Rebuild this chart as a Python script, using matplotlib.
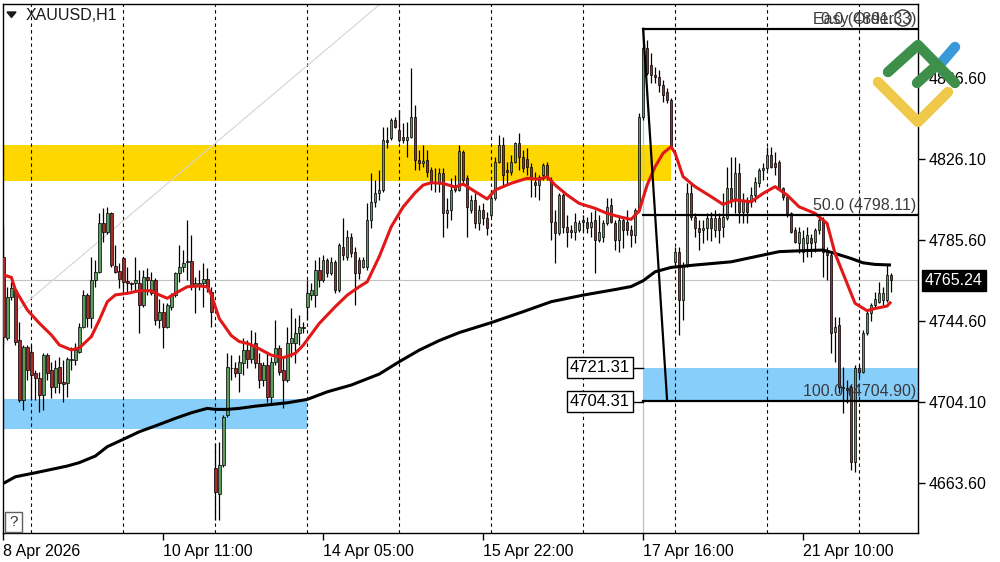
import matplotlib
matplotlib.use("Agg")
import matplotlib.pyplot as plt
from matplotlib.patches import Rectangle, Circle, Polygon
import numpy as np

plt.rcParams['font.family'] = ['Liberation Sans', 'DejaVu Sans']

# XAUUSD H1 candles, bar 0 = 8 Apr 17:00
opens = [
    4777.0, 4736.1, 4757.0, 4760.3, 4735.2, 4705.1, 4731.9, 4729.4, 4718.5, 4716.0,
    4707.7, 4727.7, 4720.2, 4711.8, 4721.9, 4714.0, 4713.5, 4725.2, 4725.2, 4729.4,
    4741.9, 4757.8, 4746.1, 4765.3, 4769.5, 4793.8, 4789.6, 4798.8, 4772.4, 4769.9,
    4776.2, 4764.8, 4763.7, 4763.7, 4763.7, 4752.8, 4767.0, 4758.7, 4765.3, 4745.3,
    4749.5, 4741.9, 4752.0, 4757.8, 4769.0, 4771.7, 4774.4, 4774.9, 4762.8, 4762.3,
    4764.0, 4765.7, 4759.5, 4670.9, 4658.3, 4672.5, 4697.6, 4721.4, 4721.0, 4718.5,
    4723.6, 4730.2, 4726.0, 4733.6, 4723.6, 4715.2, 4722.7, 4706.8, 4724.4, 4731.1,
    4720.2, 4715.2, 4733.6, 4733.6, 4738.6, 4741.9, 4752.0, 4757.8, 4757.8, 4770.4,
    4765.3, 4775.4, 4768.7, 4774.5, 4760.3, 4782.1, 4777.0, 4787.1, 4779.6, 4775.4,
    4772.0, 4772.0, 4795.4, 4804.6, 4808.8, 4810.5, 4835.6, 4836.4, 4845.6, 4840.6,
    4837.2, 4835.6, 4837.2, 4847.3, 4825.5, 4824.0, 4825.5, 4820.5, 4814.7, 4813.8,
    4818.9, 4798.8, 4800.5, 4812.2, 4810.5, 4829.7, 4816.4, 4800.5, 4805.5, 4793.8,
    4800.5, 4796.3, 4798.0, 4806.3, 4824.7, 4833.1, 4820.5, 4819.7, 4824.7, 4833.9,
    4827.2, 4826.0, 4822.2, 4814.7, 4813.0, 4818.0, 4823.0, 4815.5, 4794.6, 4788.8,
    4808.0, 4792.1, 4790.4, 4789.6, 4790.4, 4795.5, 4794.6, 4792.1, 4795.5, 4785.4,
    4787.1, 4793.8, 4802.9, 4793.8, 4785.4, 4795.5, 4794.6, 4790.4, 4787.9, 4800.5,
    4847.3, 4881.6, 4873.2, 4868.2, 4867.4, 4863.2, 4859.8, 4855.6, 4774.5, 4779.6,
    4755.3, 4772.9, 4808.8, 4797.1, 4791.3, 4790.4, 4791.3, 4796.3, 4790.4, 4796.3,
    4792.1, 4796.3, 4811.3, 4806.3, 4818.9, 4799.6, 4804.6, 4804.6, 4808.0, 4813.8,
    4820.5, 4821.4, 4828.1, 4823.9, 4824.7, 4811.3, 4807.2, 4798.8, 4790.4, 4783.8,
    4779.6, 4783.7, 4786.2, 4784.6, 4790.4, 4795.4, 4779.6, 4777.9, 4739.4, 4742.8,
    4711.8, 4711.0, 4711.8, 4674.2, 4721.0, 4719.4, 4738.6, 4748.6, 4752.8, 4754.5,
    4755.3, 4755.3, 4767.8,
]
highs = [
    4792.1, 4762.0, 4764.5, 4762.0, 4744.4, 4732.7, 4732.7, 4732.7, 4720.2, 4719.4,
    4728.6, 4728.6, 4724.4, 4725.2, 4726.9, 4725.2, 4726.9, 4731.9, 4733.6, 4743.6,
    4760.3, 4758.7, 4777.0, 4775.4, 4798.8, 4801.3, 4802.1, 4799.6, 4782.9, 4773.7,
    4777.0, 4772.0, 4764.5, 4777.0, 4770.4, 4770.4, 4771.2, 4769.5, 4766.2, 4756.1,
    4753.6, 4753.6, 4758.7, 4769.5, 4782.9, 4780.4, 4795.4, 4787.9, 4767.0, 4770.4,
    4773.7, 4771.2, 4762.0, 4683.4, 4684.2, 4697.6, 4728.6, 4727.7, 4724.4, 4727.7,
    4736.1, 4735.3, 4740.3, 4739.4, 4728.6, 4724.4, 4728.6, 4726.9, 4745.3, 4732.7,
    4726.9, 4741.9, 4751.1, 4746.1, 4747.8, 4744.4, 4765.3, 4763.7, 4775.4, 4777.0,
    4777.9, 4776.2, 4777.0, 4775.4, 4783.7, 4796.3, 4790.4, 4788.8, 4782.1, 4777.0,
    4777.0, 4803.8, 4818.9, 4815.5, 4820.5, 4842.3, 4842.3, 4846.4, 4847.3, 4850.6,
    4843.9, 4844.8, 4871.5, 4853.1, 4830.6, 4833.1, 4830.6, 4822.2, 4821.4, 4821.4,
    4821.4, 4806.3, 4816.3, 4818.0, 4833.1, 4830.6, 4818.0, 4808.0, 4808.8, 4803.0,
    4803.8, 4799.6, 4810.5, 4827.2, 4838.1, 4837.2, 4824.7, 4828.1, 4834.7, 4838.9,
    4830.6, 4831.4, 4823.9, 4819.7, 4818.0, 4823.9, 4824.7, 4817.2, 4800.5, 4808.8,
    4808.8, 4798.0, 4792.9, 4798.8, 4795.5, 4798.0, 4797.1, 4799.6, 4800.5, 4798.0,
    4795.5, 4806.3, 4806.3, 4795.5, 4798.0, 4797.1, 4800.5, 4792.9, 4801.3, 4849.0,
    4891.3, 4885.7, 4879.1, 4872.4, 4870.7, 4865.7, 4861.5, 4856.5, 4782.1, 4782.1,
    4774.5, 4813.8, 4813.8, 4798.8, 4795.5, 4795.5, 4798.8, 4799.6, 4800.5, 4798.8,
    4808.8, 4822.2, 4827.2, 4827.2, 4823.9, 4808.8, 4807.2, 4812.2, 4817.2, 4821.4,
    4823.9, 4832.2, 4832.2, 4829.7, 4825.5, 4812.2, 4808.0, 4799.6, 4792.1, 4792.1,
    4790.4, 4792.1, 4788.7, 4791.3, 4797.1, 4797.1, 4782.1, 4779.6, 4747.0, 4747.0,
    4721.9, 4715.2, 4712.7, 4722.7, 4722.7, 4740.3, 4750.3, 4753.6, 4759.5, 4764.5,
    4762.0, 4772.9, 4768.7,
]
lows = [
    4732.7, 4735.2, 4755.3, 4732.7, 4704.3, 4700.1, 4715.2, 4705.1, 4705.1, 4699.3,
    4700.1, 4715.2, 4706.0, 4708.5, 4708.5, 4704.3, 4706.8, 4720.2, 4722.7, 4728.6,
    4741.1, 4741.9, 4741.1, 4762.0, 4768.7, 4784.6, 4788.7, 4772.0, 4768.7, 4761.2,
    4760.3, 4758.7, 4760.3, 4759.5, 4738.6, 4752.0, 4757.8, 4757.8, 4742.8, 4741.1,
    4731.1, 4741.1, 4750.3, 4757.0, 4764.5, 4769.5, 4765.3, 4760.3, 4748.6, 4760.3,
    4752.0, 4759.5, 4741.9, 4645.0, 4645.0, 4671.7, 4696.8, 4715.2, 4716.9, 4709.0,
    4717.7, 4721.0, 4723.6, 4721.0, 4711.0, 4712.0, 4704.3, 4703.5, 4722.7, 4717.7,
    4701.0, 4714.4, 4726.9, 4723.6, 4732.7, 4738.6, 4745.3, 4755.3, 4752.0, 4762.0,
    4764.5, 4767.0, 4767.9, 4758.7, 4759.5, 4775.4, 4775.4, 4777.0, 4752.8, 4766.0,
    4771.2, 4770.4, 4791.3, 4802.1, 4805.5, 4809.7, 4831.4, 4835.6, 4841.4, 4834.7,
    4833.9, 4827.2, 4836.4, 4820.5, 4820.5, 4822.2, 4817.2, 4810.5, 4809.7, 4809.7,
    4787.1, 4791.3, 4795.4, 4809.7, 4810.0, 4813.0, 4787.1, 4798.8, 4791.3, 4790.4,
    4792.9, 4787.9, 4797.1, 4805.5, 4823.9, 4813.0, 4813.0, 4818.0, 4823.9, 4820.5,
    4819.7, 4818.0, 4807.2, 4807.2, 4805.5, 4815.5, 4815.5, 4785.4, 4773.7, 4787.9,
    4788.8, 4782.1, 4786.3, 4785.4, 4789.6, 4789.6, 4788.8, 4787.1, 4768.7, 4784.6,
    4784.6, 4792.9, 4793.8, 4780.4, 4779.6, 4781.2, 4787.9, 4782.1, 4783.8, 4799.6,
    4845.6, 4868.0, 4864.0, 4864.0, 4859.8, 4854.8, 4854.0, 4831.4, 4772.9, 4737.8,
    4745.3, 4772.0, 4795.5, 4787.1, 4780.4, 4783.8, 4785.4, 4785.0, 4787.1, 4783.8,
    4787.1, 4795.5, 4802.1, 4798.8, 4793.8, 4793.8, 4793.8, 4802.1, 4804.6, 4812.2,
    4815.5, 4820.5, 4821.4, 4818.0, 4810.5, 4805.5, 4797.1, 4788.8, 4783.8, 4778.7,
    4774.5, 4777.0, 4777.0, 4779.6, 4788.7, 4767.0, 4765.3, 4728.6, 4724.4, 4708.5,
    4698.5, 4703.5, 4670.0, 4669.2, 4716.9, 4718.5, 4737.8, 4745.0, 4751.1, 4753.6,
    4752.8, 4754.5, 4759.5,
]
closes = [
    4736.9, 4757.0, 4761.2, 4734.4, 4705.1, 4731.9, 4720.2, 4717.7, 4716.0, 4707.7,
    4727.7, 4718.5, 4711.8, 4721.0, 4713.5, 4713.2, 4725.7, 4726.0, 4730.2, 4741.9,
    4757.8, 4746.1, 4765.3, 4769.5, 4793.8, 4789.6, 4798.8, 4772.9, 4769.5, 4765.8,
    4764.5, 4764.0, 4763.3, 4765.3, 4752.8, 4767.0, 4765.3, 4765.3, 4745.3, 4749.5,
    4741.9, 4752.8, 4757.8, 4769.0, 4771.7, 4774.0, 4774.9, 4762.8, 4763.7, 4764.0,
    4765.7, 4762.0, 4749.5, 4659.2, 4672.5, 4696.8, 4721.9, 4721.0, 4718.5, 4724.4,
    4730.2, 4726.0, 4732.7, 4723.6, 4715.2, 4722.7, 4706.8, 4724.4, 4731.1, 4719.4,
    4715.2, 4733.6, 4736.1, 4738.6, 4741.9, 4741.1, 4758.7, 4760.3, 4770.4, 4765.3,
    4775.4, 4768.7, 4774.5, 4760.3, 4782.9, 4777.9, 4787.1, 4778.7, 4768.7, 4768.7,
    4775.4, 4795.4, 4804.6, 4808.8, 4810.5, 4835.6, 4834.7, 4845.6, 4842.3, 4835.6,
    4835.6, 4837.2, 4847.3, 4825.5, 4823.9, 4825.0, 4819.7, 4814.7, 4813.8, 4818.9,
    4798.8, 4800.5, 4810.5, 4810.5, 4830.0, 4815.5, 4802.1, 4805.5, 4793.8, 4800.5,
    4796.3, 4791.3, 4806.3, 4824.7, 4833.1, 4818.0, 4819.7, 4824.7, 4833.9, 4827.2,
    4821.4, 4822.2, 4817.2, 4813.0, 4817.2, 4823.0, 4817.2, 4794.6, 4788.8, 4808.0,
    4792.1, 4789.6, 4789.6, 4794.6, 4793.8, 4794.6, 4791.3, 4794.6, 4785.4, 4789.6,
    4793.8, 4802.1, 4794.6, 4785.4, 4795.5, 4790.4, 4790.4, 4787.9, 4800.5, 4847.3,
    4881.6, 4869.0, 4868.2, 4867.4, 4863.2, 4858.2, 4855.6, 4832.3, 4779.6, 4755.3,
    4772.9, 4808.8, 4797.1, 4791.3, 4789.6, 4791.3, 4796.3, 4791.3, 4796.3, 4790.4,
    4797.1, 4811.3, 4805.5, 4818.9, 4799.6, 4805.5, 4799.6, 4808.0, 4814.7, 4820.5,
    4821.4, 4828.1, 4822.2, 4822.2, 4811.3, 4807.2, 4798.8, 4789.6, 4784.6, 4789.6,
    4786.2, 4787.9, 4783.7, 4790.4, 4795.4, 4779.6, 4777.9, 4738.6, 4741.9, 4711.8,
    4711.0, 4710.2, 4674.2, 4721.0, 4719.4, 4738.6, 4748.6, 4752.8, 4756.1, 4758.7,
    4758.7, 4767.8, 4765.24,
]

# moving averages (bar index, price)
fast_ma_bars = [0, 2, 3, 6, 9, 12, 14, 17, 19, 22, 24, 26, 28, 31, 34, 37, 39, 41, 43, 46,
                49, 51, 52, 54, 57, 59, 61, 63, 67, 70, 73, 75, 79, 83, 86, 89, 91, 94, 97, 100,
                103, 105, 107, 110, 113, 115, 118, 121, 123, 127, 131, 134, 136, 138, 141, 144,
                148, 151, 154, 157, 159, 161, 163, 165, 167, 168, 170, 173, 177, 180, 183, 187,
                190, 193, 196, 199, 203, 206, 208, 211, 213, 216, 218, 221, 222]
fast_ma = [4767.9, 4766.7, 4760.4, 4750.3, 4743.7, 4737.8, 4732.8, 4730.3, 4731.3, 4737.0,
           4745.3, 4754.5, 4757.9, 4758.7, 4760.0, 4760.0, 4757.9, 4756.2, 4758.7, 4762.0,
           4762.4, 4762.0, 4757.9, 4746.0, 4737.5, 4734.5, 4733.6, 4731.9, 4727.7, 4726.4,
           4728.6, 4732.7, 4743.6, 4752.0, 4757.8, 4762.0, 4764.5, 4777.1, 4792.1, 4802.1,
           4809.2, 4813.0, 4814.2, 4813.8, 4812.0, 4813.5, 4809.7, 4806.0, 4810.5, 4813.9,
           4816.4, 4815.9, 4817.2, 4813.0, 4808.0, 4803.8, 4801.3, 4798.8, 4797.1, 4795.8,
           4800.0, 4813.0, 4822.2, 4829.0, 4832.2, 4829.0, 4817.2, 4812.2, 4807.2, 4803.3,
           4805.5, 4804.6, 4808.8, 4812.2, 4808.0, 4802.1, 4798.8, 4793.8, 4778.7, 4763.7,
           4753.7, 4750.0, 4751.1, 4752.3, 4754.5]
slow_ma_bars = [0, 3, 8, 12, 16, 19, 23, 26, 30, 34, 38, 43, 47, 51, 53, 56, 59, 63, 71, 76,
                81, 87, 94, 99, 104, 109, 114, 122, 130, 137, 145, 153, 157, 160, 163, 167,
                173, 182, 190, 194, 200, 205, 208, 212, 215, 218, 222]
slow_ma = [4663.4, 4666.7, 4668.7, 4670.4, 4672.1, 4673.8, 4677.1, 4681.8, 4685.5, 4689.3,
           4692.2, 4696.0, 4698.8, 4701.0, 4700.5, 4700.5, 4701.0, 4702.1, 4703.8, 4705.5,
           4709.3, 4712.7, 4718.2, 4724.4, 4730.2, 4735.0, 4739.0, 4744.0, 4749.5, 4754.5,
           4757.8, 4760.6, 4762.1, 4765.0, 4769.5, 4771.7, 4772.9, 4774.5, 4777.9, 4779.6,
           4780.1, 4780.4, 4778.7, 4776.2, 4774.0, 4773.2, 4772.9]

tick_bars = [0, 40, 80, 120, 160, 200]
tick_labels = ['8 Apr 2026', '10 Apr 11:00', '14 Apr 05:00', '15 Apr 22:00',
               '17 Apr 16:00', '21 Apr 10:00']
day_starts = [7, 30, 53, 76, 99, 122, 145, 168, 191, 214]
price_ticks = [4663.60, 4704.10, 4744.60, 4785.60, 4826.10, 4866.60]

fib_bar = 160
fib_end_bar = 166
fib_levels = [0.0, 50.0, 100.0]
fib_prices = [4891.33, 4798.11, 4704.90]
zone_prices = [4721.31, 4704.31]
last_price = 4765.24

o = np.array(opens); h = np.array(highs); l = np.array(lows); c = np.array(closes)
idx = np.arange(len(o))

fig = plt.figure(figsize=(10, 5.62), dpi=100)
ax = fig.add_axes([0.003, 29 / 562, 0.915, 529 / 562])
xmax = 228.75
ax.set_xlim(-0.1, xmax)
ax.set_ylim(4638.5, 4903.8)

# zones
ax.add_patch(Rectangle((-1, 4815.0), 168, 18.3, color='#ffd700', lw=0, zorder=1))
ax.add_patch(Rectangle((-1, 4690.5), 77, 15.2, color='#87cefa', lw=0, zorder=1))
ax.add_patch(Rectangle((fib_bar, zone_prices[1]), 80, zone_prices[0] - zone_prices[1],
                       color='#87cefa', lw=0, zorder=1))

# period separators
for d in day_starts:
    ax.axvline(d, color='black', lw=0.8, ls=(0, (3, 3)), zorder=2)

ax.axhline(last_price, color='#c4c4c4', lw=0.8, zorder=2)
ax.plot([3.5, 94.25], [4750.3, 4903.8], color='#d4d4d4', lw=0.8, zorder=2)
ax.plot([fib_bar, fib_bar], [4638.5, fib_prices[0]], color='#9fc9e6', lw=0.9, zorder=2)

# candles
bull = c >= o
ax.vlines(idx, l, h, color='black', lw=0.9, zorder=3)
body_lo = np.minimum(o, c)
body_h = np.maximum(np.abs(c - o), 0.5)
ax.bar(idx, body_h, bottom=body_lo, width=0.62,
       color=np.where(bull, '#5a9e5a', '#a52a2a'), edgecolor='black', lw=0.5, zorder=4)

ax.plot(slow_ma_bars, slow_ma, color='black', lw=2.2, zorder=5, solid_capstyle='butt')
ax.plot(fast_ma_bars, fast_ma, color='#e01818', lw=2.2, zorder=6, solid_capstyle='butt')

# fibonacci
for lev, p in zip(fib_levels, fib_prices):
    ax.plot([fib_bar, xmax], [p, p], color='black', lw=1.6, zorder=7)
    ax.text(228.25, p + 0.8, '%.1f (%.2f)' % (lev, p), ha='right', va='bottom',
            fontsize=11.5, color='#3a3a3a', zorder=8)
ax.plot([fib_bar, fib_end_bar], [fib_prices[0], fib_prices[2]], color='black', lw=1.6, zorder=7)
ax.text(202.5, fib_prices[0] + 0.8, 'Easy Order', ha='left', va='bottom',
        fontsize=11.5, color='#3a3a3a', zorder=8)

# zone labels
for p in zone_prices:
    ax.plot([157.5, fib_bar], [p, p], color='black', lw=1, zorder=7)
    ax.text(156.7, p, '%.2f' % p, ha='right', va='center', fontsize=12, color='black',
            zorder=8, bbox=dict(boxstyle='square,pad=0.18', fc='white', ec='black', lw=1))

# last price label
ax.text(230.5, last_price, '%.2f' % last_price, ha='left', va='center', fontsize=11.5,
        color='white', clip_on=False, zorder=9,
        bbox=dict(boxstyle='square,pad=0.2', fc='black', ec='black'))

ax.yaxis.tick_right()
ax.set_yticks(price_ticks, ['%.2f' % p for p in price_ticks])
ax.set_xticks(tick_bars, tick_labels)
for t in ax.get_xticklabels():
    t.set_horizontalalignment('left')
ax.tick_params(axis='both', direction='out', length=5, width=1, labelsize=11.5, pad=3,
               colors='black')
for s in ax.spines.values():
    s.set_color('black')
    s.set_linewidth(1)

# overlay in pixel coordinates
ov = fig.add_axes([0, 0, 1, 1], zorder=10)
ov.set_xlim(0, 1000)
ov.set_ylim(562, 0)
ov.axis('off')
ov.add_patch(Polygon([(7, 12), (16, 12), (11.5, 17.5)], closed=True, color='#1a1a1a'))
ov.text(26, 16, 'XAUUSD,H1', fontsize=11.5, va='center', ha='left', color='#1a1a1a')
ov.add_patch(Rectangle((5, 512), 17, 20, fc='white', ec='#606060', lw=1))
ov.text(13.5, 522, '?', fontsize=11, ha='center', va='center', color='#303030')
ov.add_patch(Circle((903, 18), 8, fill=False, ec='#3a3a3a', lw=1))

# logo
ov.plot([942, 955], [62, 47], color='#3a9ad9', lw=7.5, solid_capstyle='round')
ov.plot([878, 918, 948], [82, 122, 92], color='#f0c94a', lw=7.5,
        solid_capstyle='round', solid_joinstyle='round')
ov.plot([888, 918, 955], [72, 45, 83], color='#3d8f4a', lw=7.5,
        solid_capstyle='round', solid_joinstyle='round')
ov.plot([917, 937], [83, 65], color='#3d8f4a', lw=7.5, solid_capstyle='round')

fig.savefig('out.png', dpi=100)
